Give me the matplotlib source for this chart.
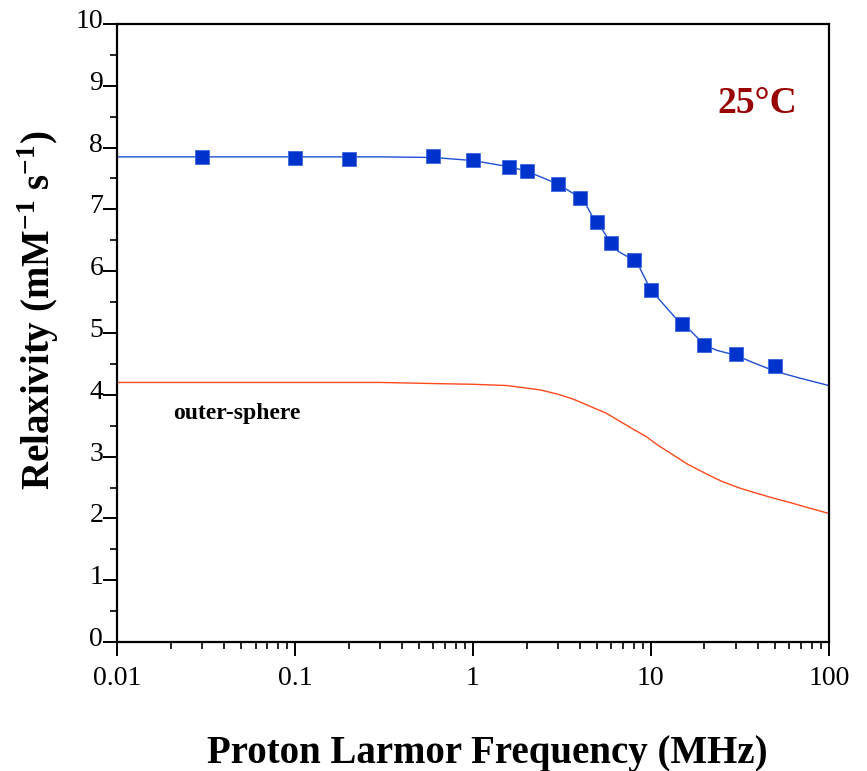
import matplotlib
matplotlib.use('Agg')
import matplotlib.pyplot as plt
import matplotlib.transforms as mtransforms
from matplotlib.ticker import LogLocator, NullFormatter, MultipleLocator, FixedLocator

# measured relaxivities (25 C)
freq = [0.03, 0.1, 0.2, 0.6, 1.0, 1.6, 2.0, 3.0, 4.0, 5.0, 6.0, 8.0,
        10.0, 15.0, 20.0, 30.0, 50.0]
r1 = [7.84, 7.83, 7.82, 7.86, 7.80, 7.69, 7.62, 7.41, 7.19, 6.79, 6.45,
      6.18, 5.70, 5.15, 4.81, 4.66, 4.47]

# fitted total curve
fit_f = [0.01, 0.1, 0.3, 0.6, 1.0, 1.6, 2.0, 3.0, 4.0, 4.35, 4.64, 5.0, 6.0,
         6.55, 8.0, 8.67, 9.46, 10, 11, 13.6, 15, 16.5, 20, 23.4, 30, 37.6,
         50, 68.7, 100]
fit_r = [7.85, 7.85, 7.85, 7.84, 7.79, 7.69, 7.62, 7.41, 7.19, 7.06, 6.91,
         6.79, 6.45, 6.32, 6.18, 6.05, 5.83, 5.70, 5.56, 5.26, 5.15, 5.05,
         4.81, 4.72, 4.64, 4.52, 4.38, 4.27, 4.15]

# outer-sphere contribution
os_f = [0.01, 0.3, 0.65, 1.0, 1.55, 2.38, 3.0, 3.66, 4.5, 5.63, 6.98, 8.0,
        9.46, 11.0, 13.3, 16.0, 20.5, 25.0, 31.6, 40.0, 48.6, 60.0, 75, 100]
os_r = [4.20, 4.20, 4.18, 4.17, 4.15, 4.08, 4.01, 3.93, 3.82, 3.70, 3.54,
        3.44, 3.32, 3.18, 3.03, 2.88, 2.72, 2.60, 2.49, 2.40, 2.33, 2.26,
        2.18, 2.08]

serif = ['Liberation Serif', 'DejaVu Serif']
plt.rcParams['font.family'] = serif

fig = plt.figure(figsize=(8.67, 7.71), dpi=100)
ax = fig.add_axes([0.135, 0.1673, 0.821, 0.8016])

ax.plot(fit_f, fit_r, color='#1f4fd6', lw=1.0, zorder=2)
ax.plot(os_f, os_r, color='#ff4a1c', lw=1.0, zorder=2)
ax.plot(freq, r1, ls='none', marker='s', ms=10.5, color='#0033cc',
        mec='#3d66dd', mew=0.6, zorder=3)

ax.set_xscale('log')
ax.set_xlim(0.01, 100)
ax.set_ylim(0, 10)

ax.xaxis.set_major_locator(FixedLocator([0.01, 0.1, 1, 10, 100]))
ax.set_xticklabels(['0.01', '0.1', '1', '10', '100'])
ax.xaxis.set_minor_locator(LogLocator(base=10, subs=range(2, 10)))
ax.xaxis.set_minor_formatter(NullFormatter())
ax.yaxis.set_major_locator(MultipleLocator(1))
ax.yaxis.set_minor_locator(MultipleLocator(0.5))

for s in ax.spines.values():
    s.set_linewidth(1.6)
ax.tick_params(which='major', direction='out', length=10, width=1.4, labelsize=20)
ax.tick_params(which='minor', direction='out', length=5, width=1.2)
ax.tick_params(axis='y', which='both', pad=0)
ax.tick_params(axis='x', which='major', pad=7)

# shift y tick labels up a bit so the baseline sits at the tick
off = mtransforms.ScaledTranslation(0, 4 / 72, fig.dpi_scale_trans)
for lab in ax.get_yticklabels():
    lab.set_transform(lab.get_transform() + off)

xl = ax.set_xlabel('Proton Larmor Frequency (MHz)', fontsize=28, fontweight='bold')
ax.xaxis.set_label_coords(0.52, -0.18)
xl.set_va('center')
yl = ax.set_ylabel('Relaxivity (mM$^{\\mathregular{-1}}$ s$^{\\mathregular{-1}}$)',
                   fontsize=28, fontweight='bold')
ax.yaxis.set_label_coords(-0.111, 0.537)
yl.set_va('center')

ax.text(0.899, 0.872, '25°C', transform=ax.transAxes, fontsize=27,
        fontweight='bold', color='#990000', ha='center', va='center')
ax.text(0.079, 0.369, 'outer-sphere', transform=ax.transAxes, fontsize=17,
        fontweight='bold', ha='left', va='center')

fig.savefig('out.png', dpi=100, facecolor='white')
